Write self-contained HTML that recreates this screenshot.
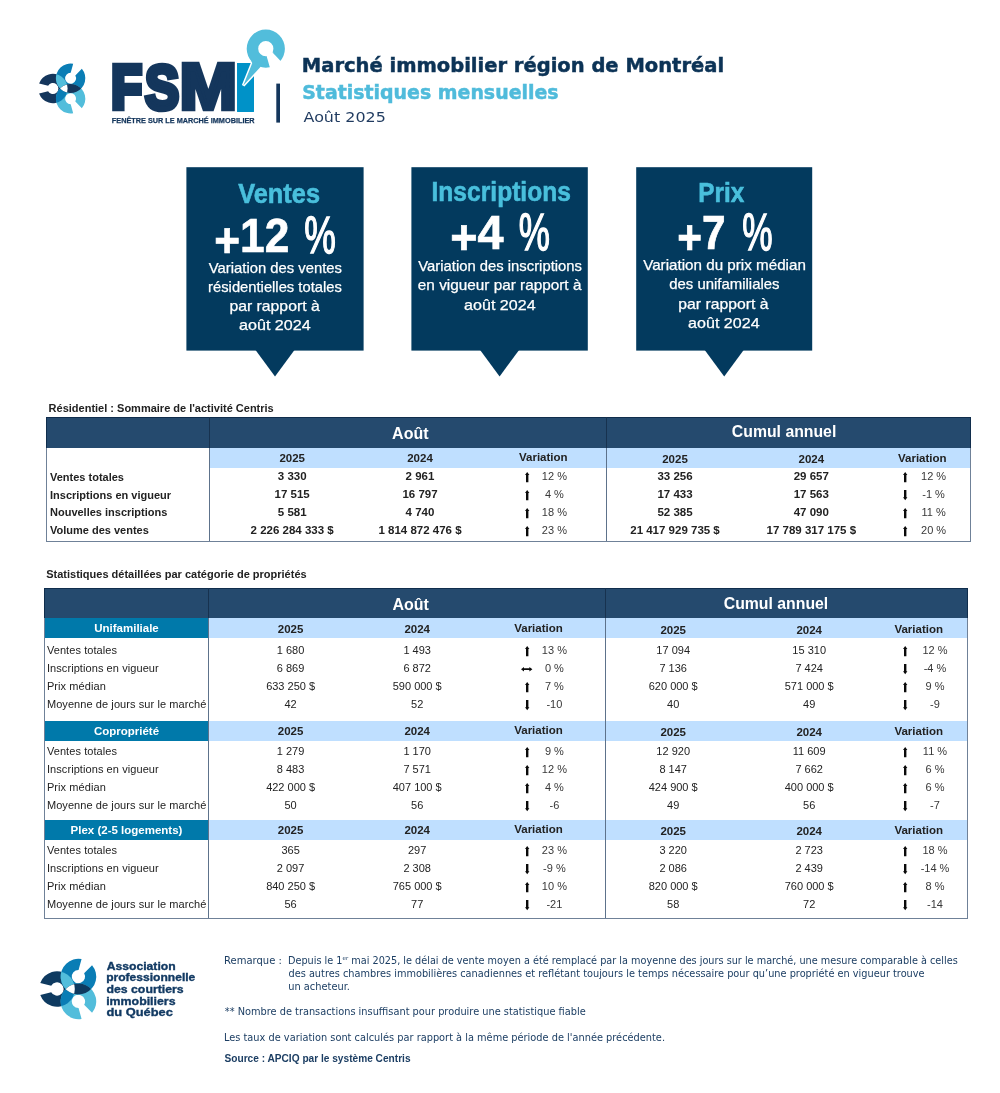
<!DOCTYPE html>
<html lang="fr">
<head>
<meta charset="utf-8">
<title>Marché immobilier région de Montréal - Statistiques mensuelles</title>
<style>
html,body{margin:0;padding:0;background:#fff;}
body{width:1000px;height:1093px;position:relative;overflow:hidden;font-family:"Liberation Sans",sans-serif;color:#1a1a1a;}
.abs{position:absolute;white-space:nowrap;line-height:1;}
svg{position:absolute;left:0;top:0;overflow:visible;}

.t{position:absolute;white-space:nowrap;line-height:1;font-size:11px;color:#222;}
.c{text-align:center;width:200px;}
.r{text-align:right;width:100px;}
.b{font-weight:700;}
.g{color:#383838;}
.w{color:#fff;}
.box{position:absolute;}
.ar{position:absolute;overflow:visible;}

</style>
</head>
<body>
<svg width="1000" height="400" viewBox="0 0 1000 400">
<defs>
<clipPath id="hA"><path d="M39.08,83.50 A14.7,14.7 0 1 1 39.08,93.50 L48.09,91.17 A5.5,5.5 0 1 0 48.09,85.83 Z"/></clipPath>
<clipPath id="hB"><path d="M81.84,68.81 A14.7,14.7 0 1 1 73.18,63.81 L70.70,72.78 A5.5,5.5 0 1 0 75.31,75.45 Z"/></clipPath>
</defs>
<path d="M39.08,83.50 A14.7,14.7 0 1 1 39.08,93.50 L48.09,91.17 A5.5,5.5 0 1 0 48.09,85.83 Z" fill="#14365c"/>
<path d="M81.84,68.81 A14.7,14.7 0 1 1 73.18,63.81 L70.70,72.78 A5.5,5.5 0 1 0 75.31,75.45 Z" fill="#0a7db5"/>
<path d="M73.18,113.19 A14.7,14.7 0 1 1 81.84,108.19 L75.31,101.55 A5.5,5.5 0 1 0 70.70,104.22 Z" fill="#52bddb"/>
<path d="M81.84,68.81 A14.7,14.7 0 1 1 73.18,63.81 L70.70,72.78 A5.5,5.5 0 1 0 75.31,75.45 Z" fill="#52bddb" clip-path="url(#hA)"/>
<path d="M73.18,113.19 A14.7,14.7 0 1 1 81.84,108.19 L75.31,101.55 A5.5,5.5 0 1 0 70.70,104.22 Z" fill="#0a7db5" clip-path="url(#hA)"/>
<path d="M73.18,113.19 A14.7,14.7 0 1 1 81.84,108.19 L75.31,101.55 A5.5,5.5 0 1 0 70.70,104.22 Z" fill="#14365c" clip-path="url(#hB)"/>
<g clip-path="url(#hA)"><path d="M73.18,113.19 A14.7,14.7 0 1 1 81.84,108.19 L75.31,101.55 A5.5,5.5 0 1 0 70.70,104.22 Z" fill="#ffffff" clip-path="url(#hB)"/></g>
<text font-family="Liberation Sans, sans-serif" font-weight="700"><tspan x="111.59" y="108.25" font-size="61.05" fill="#14365c" textLength="30.22" lengthAdjust="spacingAndGlyphs" stroke="#14365c" stroke-width="6.5">F</tspan><tspan x="145.02" y="108.75" font-size="62.5" fill="#14365c" textLength="34.13" lengthAdjust="spacingAndGlyphs" stroke="#14365c" stroke-width="5.5">S</tspan><tspan x="179.64" y="109.25" font-size="63.95" fill="#14365c" textLength="57.54" lengthAdjust="spacingAndGlyphs" stroke="#14365c" stroke-width="4.5">M</tspan><tspan x="234.28" y="109.5" font-size="64.68" fill="#0092c8" textLength="22.49" lengthAdjust="spacingAndGlyphs" stroke="#0092c8" stroke-width="4.0">I</tspan></text>
<rect x="237.1" y="63" width="16.9" height="48.6" fill="#0092c8"/>
<polygon points="252.2,63.3 243.3,85.6 260.2,67.3" fill="#52bddb" stroke="#fff" stroke-width="3" stroke-linejoin="miter"/>
<path d="M246.70000000000002,48.7 a19.1,19.1 0 1 0 38.2,0 a19.1,19.1 0 1 0 -38.2,0 Z M258.2,48.7 a7.6,7.6 0 1 1 15.2,0 a7.6,7.6 0 1 1 -15.2,0 Z" fill="#52bddb" fill-rule="evenodd"/>
<polygon points="251,60 252.2,63.3 243.3,85.6 260.2,67.3 262,64" fill="#52bddb"/>
<polygon points="265.8,48.7 272.3,52.2 288.4,69.3 272.8,77.8 266.8,56.7" fill="#fff"/>
<text x="111.84" y="123" font-family="Liberation Sans, sans-serif" font-weight="700" font-size="7.7" fill="#14365c" textLength="142.73" lengthAdjust="spacingAndGlyphs" stroke="#14365c" stroke-width="0.25">FENÊTRE SUR LE MARCHÉ IMMOBILIER</text>
<rect x="276.3" y="83.6" width="3.7" height="39" fill="#14365c"/>
<text x="301.84" y="72.4" font-family="DejaVu Sans, Liberation Sans, sans-serif" font-weight="700" font-size="20" fill="#0c3356" textLength="422.27" lengthAdjust="spacingAndGlyphs" stroke="#0c3356" stroke-width="0.5">Marché immobilier région de Montréal</text>
<text x="302.22" y="99.1" font-family="DejaVu Sans, Liberation Sans, sans-serif" font-weight="700" font-size="20" fill="#4fbbdb" textLength="256.36" lengthAdjust="spacingAndGlyphs" stroke="#4fbbdb" stroke-width="0.5">Statistiques mensuelles</text>
<text x="303.53" y="122" font-family="DejaVu Sans, Liberation Sans, sans-serif" font-weight="400" font-size="14.7" fill="#1f3a5f" textLength="82.28" lengthAdjust="spacingAndGlyphs" >Août 2025</text>
<rect x="186.4" y="167.2" width="177.20000000000002" height="183.4" fill="#033a5e"/>
<polygon points="255.5,350 294.5,350 275.0,376.4" fill="#033a5e"/>
<text x="238.24" y="202.7" font-family="Liberation Sans, sans-serif" font-weight="700" font-size="28.3" fill="#49bfdc" textLength="81.79" lengthAdjust="spacingAndGlyphs" stroke="#49bfdc" stroke-width="0.6">Ventes</text>
<text x="214.2" y="252.2" font-family="Liberation Sans, sans-serif" font-weight="700" font-size="48.5" fill="#fff" textLength="75.04" lengthAdjust="spacingAndGlyphs" stroke="#fff" stroke-width="0.7"><tspan dy="4.3">+</tspan><tspan dy="-4.3">12</tspan></text>
<text x="304.28" y="252.5" font-family="Liberation Sans, sans-serif" font-weight="400" font-size="52" fill="#fff" textLength="31.61" lengthAdjust="spacingAndGlyphs" stroke="#fff" stroke-width="1.4">%</text>
<text x="208.85" y="272.9" font-family="Liberation Sans, sans-serif" font-weight="400" font-size="15" fill="#fff" textLength="133.1" lengthAdjust="spacingAndGlyphs" stroke="#fff" stroke-width="0.25">Variation des ventes</text>
<text x="208.12" y="291.5" font-family="Liberation Sans, sans-serif" font-weight="400" font-size="15" fill="#fff" textLength="133.7" lengthAdjust="spacingAndGlyphs" stroke="#fff" stroke-width="0.25">résidentielles totales</text>
<text x="229.45" y="310.5" font-family="Liberation Sans, sans-serif" font-weight="400" font-size="15" fill="#fff" textLength="90.24" lengthAdjust="spacingAndGlyphs" stroke="#fff" stroke-width="0.25">par rapport à</text>
<text x="238.99" y="330.2" font-family="Liberation Sans, sans-serif" font-weight="400" font-size="15" fill="#fff" textLength="71.73" lengthAdjust="spacingAndGlyphs" stroke="#fff" stroke-width="0.25">août 2024</text>
<rect x="411.4" y="167.2" width="176.39999999999998" height="183.4" fill="#033a5e"/>
<polygon points="480.09999999999997,350 519.0999999999999,350 499.59999999999997,376.4" fill="#033a5e"/>
<text x="431.52" y="201" font-family="Liberation Sans, sans-serif" font-weight="700" font-size="28.3" fill="#49bfdc" textLength="139.39" lengthAdjust="spacingAndGlyphs" stroke="#49bfdc" stroke-width="0.6">Inscriptions</text>
<text x="450.21" y="249.2" font-family="Liberation Sans, sans-serif" font-weight="700" font-size="48.5" fill="#fff" textLength="53.36" lengthAdjust="spacingAndGlyphs" stroke="#fff" stroke-width="0.7"><tspan dy="4.3">+</tspan><tspan dy="-4.3">4</tspan></text>
<text x="518.69" y="249.5" font-family="Liberation Sans, sans-serif" font-weight="400" font-size="52" fill="#fff" textLength="31.18" lengthAdjust="spacingAndGlyphs" stroke="#fff" stroke-width="1.4">%</text>
<text x="418.35" y="270.8" font-family="Liberation Sans, sans-serif" font-weight="400" font-size="15" fill="#fff" textLength="163.58" lengthAdjust="spacingAndGlyphs" stroke="#fff" stroke-width="0.25">Variation des inscriptions</text>
<text x="417.83" y="289.7" font-family="Liberation Sans, sans-serif" font-weight="400" font-size="15" fill="#fff" textLength="163.58" lengthAdjust="spacingAndGlyphs" stroke="#fff" stroke-width="0.25">en vigueur par rapport à</text>
<text x="464.1" y="309.5" font-family="Liberation Sans, sans-serif" font-weight="400" font-size="15" fill="#fff" textLength="71.52" lengthAdjust="spacingAndGlyphs" stroke="#fff" stroke-width="0.25">août 2024</text>
<rect x="636.2" y="167.2" width="176.0" height="183.4" fill="#033a5e"/>
<polygon points="704.7,350 743.7,350 724.2,376.4" fill="#033a5e"/>
<text x="698.24" y="201.5" font-family="Liberation Sans, sans-serif" font-weight="700" font-size="28.3" fill="#49bfdc" textLength="45.92" lengthAdjust="spacingAndGlyphs" stroke="#49bfdc" stroke-width="0.6">Prix</text>
<text x="677.16" y="249.2" font-family="Liberation Sans, sans-serif" font-weight="700" font-size="48.5" fill="#fff" textLength="48.34" lengthAdjust="spacingAndGlyphs" stroke="#fff" stroke-width="0.7"><tspan dy="4.3">+</tspan><tspan dy="-4.3">7</tspan></text>
<text x="742.21" y="249.5" font-family="Liberation Sans, sans-serif" font-weight="400" font-size="52" fill="#fff" textLength="30.34" lengthAdjust="spacingAndGlyphs" stroke="#fff" stroke-width="1.4">%</text>
<text x="643.15" y="270.4" font-family="Liberation Sans, sans-serif" font-weight="400" font-size="15" fill="#fff" textLength="162.77" lengthAdjust="spacingAndGlyphs" stroke="#fff" stroke-width="0.25">Variation du prix médian</text>
<text x="669.25" y="289.2" font-family="Liberation Sans, sans-serif" font-weight="400" font-size="15" fill="#fff" textLength="110.28" lengthAdjust="spacingAndGlyphs" stroke="#fff" stroke-width="0.25">des unifamiliales</text>
<text x="678.35" y="308.6" font-family="Liberation Sans, sans-serif" font-weight="400" font-size="15" fill="#fff" textLength="90.13" lengthAdjust="spacingAndGlyphs" stroke="#fff" stroke-width="0.25">par rapport à</text>
<text x="688.1" y="328" font-family="Liberation Sans, sans-serif" font-weight="400" font-size="15" fill="#fff" textLength="71.52" lengthAdjust="spacingAndGlyphs" stroke="#fff" stroke-width="0.25">août 2024</text>
</svg>
<div class="t b" style="left:48.6px;top:403px;font-size:11px">Résidentiel : Sommaire de l'activité Centris</div>
<div class="box" style="left:46.5px;top:417.2px;width:923.9px;height:30.6px;background:#254a6e"></div>
<div class="box" style="left:209.5px;top:447.8px;width:760.9px;height:19.9px;background:#bfdfff"></div>
<div class="box" style="left:46.0px;top:417.0px;width:925.0px;height:1.0px;background:#102d4c"></div>
<div class="box" style="left:46.0px;top:417.0px;width:1.0px;height:30.8px;background:#102d4c"></div>
<div class="box" style="left:970.0px;top:417.0px;width:1.0px;height:30.8px;background:#102d4c"></div>
<div class="box" style="left:46.0px;top:447.8px;width:1.2px;height:94.2px;background:#6f8198"></div>
<div class="box" style="left:970.0px;top:447.8px;width:1.2px;height:94.2px;background:#6f8198"></div>
<div class="box" style="left:46.0px;top:541.0px;width:925.0px;height:1.2px;background:#6f8198"></div>
<div class="box" style="left:209.0px;top:417.2px;width:1.0px;height:30.6px;background:#17324f"></div>
<div class="box" style="left:605.5px;top:417.2px;width:1.0px;height:30.6px;background:#17324f"></div>
<div class="box" style="left:209.0px;top:447.8px;width:1.0px;height:93.6px;background:#5d728b"></div>
<div class="box" style="left:605.5px;top:447.8px;width:1.0px;height:93.6px;background:#5d728b"></div>
<div class="t c b w" style="left:310.3px;top:426px;font-size:16px">Août</div>
<div class="t c b w" style="left:684.1px;top:424px;font-size:15.8px">Cumul annuel</div>
<div class="t c b" style="left:192.2px;top:453px;font-size:11.5px">2025</div>
<div class="t c b" style="left:320.0px;top:453px;font-size:11.5px">2024</div>
<div class="t c b" style="left:443.3px;top:452px;font-size:11.5px">Variation</div>
<div class="t c b" style="left:575.0px;top:454px;font-size:11.5px">2025</div>
<div class="t c b" style="left:711.3px;top:454px;font-size:11.5px">2024</div>
<div class="t c b" style="left:822.3px;top:453px;font-size:11.5px">Variation</div>
<div class="t b" style="left:50.0px;top:472px;font-size:11px">Ventes totales</div>
<div class="t c b" style="left:192.2px;top:471px;font-size:11.5px">3 330</div>
<div class="t c b" style="left:320.0px;top:471px;font-size:11.5px">2 961</div>
<svg class="ar" style="left:524.6px;top:472.0px" width="4.4" height="10.3" viewBox="0 0 4.4 10.3"><path d="M2.2 0 L4.4 3 H3.4 V10.3 H1 V3 H0 Z" fill="#0a0a0a"/></svg>
<div class="t c g" style="left:454.4px;top:471px;font-size:11px">12 %</div>
<div class="t c b" style="left:575.0px;top:471px;font-size:11.5px">33 256</div>
<div class="t c b" style="left:711.3px;top:471px;font-size:11.5px">29 657</div>
<svg class="ar" style="left:902.9px;top:472.0px" width="4.4" height="10.3" viewBox="0 0 4.4 10.3"><path d="M2.2 0 L4.4 3 H3.4 V10.3 H1 V3 H0 Z" fill="#0a0a0a"/></svg>
<div class="t c g" style="left:833.6px;top:471px;font-size:11px">12 %</div>
<div class="t b" style="left:50.0px;top:490px;font-size:11px">Inscriptions en vigueur</div>
<div class="t c b" style="left:192.2px;top:489px;font-size:11.5px">17 515</div>
<div class="t c b" style="left:320.0px;top:489px;font-size:11.5px">16 797</div>
<svg class="ar" style="left:524.6px;top:490.0px" width="4.4" height="10.3" viewBox="0 0 4.4 10.3"><path d="M2.2 0 L4.4 3 H3.4 V10.3 H1 V3 H0 Z" fill="#0a0a0a"/></svg>
<div class="t c g" style="left:454.4px;top:489px;font-size:11px">4 %</div>
<div class="t c b" style="left:575.0px;top:489px;font-size:11.5px">17 433</div>
<div class="t c b" style="left:711.3px;top:489px;font-size:11.5px">17 563</div>
<svg class="ar" style="left:902.9px;top:489.8px" width="4.4" height="10.3" viewBox="0 0 4.4 10.3"><path d="M2.2 10.3 L4.4 7.3 H3.4 V0 H1 V7.3 H0 Z" fill="#0a0a0a"/></svg>
<div class="t c g" style="left:833.6px;top:489px;font-size:11px">-1 %</div>
<div class="t b" style="left:50.0px;top:507px;font-size:11px">Nouvelles inscriptions</div>
<div class="t c b" style="left:192.2px;top:507px;font-size:11.5px">5 581</div>
<div class="t c b" style="left:320.0px;top:507px;font-size:11.5px">4 740</div>
<svg class="ar" style="left:524.6px;top:508.0px" width="4.4" height="10.3" viewBox="0 0 4.4 10.3"><path d="M2.2 0 L4.4 3 H3.4 V10.3 H1 V3 H0 Z" fill="#0a0a0a"/></svg>
<div class="t c g" style="left:454.4px;top:507px;font-size:11px">18 %</div>
<div class="t c b" style="left:575.0px;top:507px;font-size:11.5px">52 385</div>
<div class="t c b" style="left:711.3px;top:507px;font-size:11.5px">47 090</div>
<svg class="ar" style="left:902.9px;top:508.0px" width="4.4" height="10.3" viewBox="0 0 4.4 10.3"><path d="M2.2 0 L4.4 3 H3.4 V10.3 H1 V3 H0 Z" fill="#0a0a0a"/></svg>
<div class="t c g" style="left:833.6px;top:507px;font-size:11px">11 %</div>
<div class="t b" style="left:50.0px;top:525px;font-size:11px">Volume des ventes</div>
<div class="t c b" style="left:192.2px;top:525px;font-size:11.5px">2 226 284 333 $</div>
<div class="t c b" style="left:320.0px;top:525px;font-size:11.5px">1 814 872 476 $</div>
<svg class="ar" style="left:524.6px;top:526.0px" width="4.4" height="10.3" viewBox="0 0 4.4 10.3"><path d="M2.2 0 L4.4 3 H3.4 V10.3 H1 V3 H0 Z" fill="#0a0a0a"/></svg>
<div class="t c g" style="left:454.4px;top:525px;font-size:11px">23 %</div>
<div class="t c b" style="left:575.0px;top:525px;font-size:11.5px">21 417 929 735 $</div>
<div class="t c b" style="left:711.3px;top:525px;font-size:11.5px">17 789 317 175 $</div>
<svg class="ar" style="left:902.9px;top:526.0px" width="4.4" height="10.3" viewBox="0 0 4.4 10.3"><path d="M2.2 0 L4.4 3 H3.4 V10.3 H1 V3 H0 Z" fill="#0a0a0a"/></svg>
<div class="t c g" style="left:833.6px;top:525px;font-size:11px">20 %</div>
<div class="t b" style="left:46.2px;top:569px;font-size:11px">Statistiques détaillées par catégorie de propriétés</div>
<div class="box" style="left:44.3px;top:587.5px;width:923.0px;height:30.8px;background:#254a6e"></div>
<div class="box" style="left:44.3px;top:618.3px;width:164.4px;height:20.0px;background:#0079aa"></div>
<div class="box" style="left:208.7px;top:618.3px;width:758.6px;height:20.0px;background:#bfdfff"></div>
<div class="t c b w" style="left:26.5px;top:623px;font-size:11.5px">Unifamiliale</div>
<div class="t c b" style="left:190.6px;top:624px;font-size:11.5px">2025</div>
<div class="t c b" style="left:317.2px;top:624px;font-size:11.5px">2024</div>
<div class="t c b" style="left:438.5px;top:623px;font-size:11.5px">Variation</div>
<div class="t c b" style="left:573.2px;top:625px;font-size:11.5px">2025</div>
<div class="t c b" style="left:709.2px;top:625px;font-size:11.5px">2024</div>
<div class="t c b" style="left:818.7px;top:624px;font-size:11.5px">Variation</div>
<div class="t " style="left:46.9px;top:645px;font-size:11px;letter-spacing:0.08px">Ventes totales</div>
<div class="t c " style="left:190.6px;top:645px;font-size:11px">1 680</div>
<div class="t c " style="left:317.2px;top:645px;font-size:11px">1 493</div>
<svg class="ar" style="left:524.6px;top:646.0px" width="4.4" height="10.3" viewBox="0 0 4.4 10.3"><path d="M2.2 0 L4.4 3 H3.4 V10.3 H1 V3 H0 Z" fill="#0a0a0a"/></svg>
<div class="t c g" style="left:454.4px;top:645px;font-size:11px">13 %</div>
<div class="t c " style="left:573.2px;top:645px;font-size:11px">17 094</div>
<div class="t c " style="left:709.2px;top:645px;font-size:11px">15 310</div>
<svg class="ar" style="left:902.7px;top:646.0px" width="4.4" height="10.3" viewBox="0 0 4.4 10.3"><path d="M2.2 0 L4.4 3 H3.4 V10.3 H1 V3 H0 Z" fill="#0a0a0a"/></svg>
<div class="t c g" style="left:835.0px;top:645px;font-size:11px">12 %</div>
<div class="t " style="left:46.9px;top:663px;font-size:11px;letter-spacing:0.08px">Inscriptions en vigueur</div>
<div class="t c " style="left:190.6px;top:663px;font-size:11px">6 869</div>
<div class="t c " style="left:317.2px;top:663px;font-size:11px">6 872</div>
<svg class="ar" style="left:521.1px;top:666.8px" width="11.4" height="4.4" viewBox="0 0 11.4 4.4"><path d="M0 2.2 L3 0 V1.3 H8.4 V0 L11.4 2.2 L8.4 4.4 V3.1 H3 V4.4 Z" fill="#0a0a0a"/></svg>
<div class="t c g" style="left:454.4px;top:663px;font-size:11px">0 %</div>
<div class="t c " style="left:573.2px;top:663px;font-size:11px">7 136</div>
<div class="t c " style="left:709.2px;top:663px;font-size:11px">7 424</div>
<svg class="ar" style="left:902.7px;top:663.8px" width="4.4" height="10.3" viewBox="0 0 4.4 10.3"><path d="M2.2 10.3 L4.4 7.3 H3.4 V0 H1 V7.3 H0 Z" fill="#0a0a0a"/></svg>
<div class="t c g" style="left:835.0px;top:663px;font-size:11px">-4 %</div>
<div class="t " style="left:46.9px;top:681px;font-size:11px;letter-spacing:0.08px">Prix médian</div>
<div class="t c " style="left:190.6px;top:681px;font-size:11px">633 250 $</div>
<div class="t c " style="left:317.2px;top:681px;font-size:11px">590 000 $</div>
<svg class="ar" style="left:524.6px;top:682.0px" width="4.4" height="10.3" viewBox="0 0 4.4 10.3"><path d="M2.2 0 L4.4 3 H3.4 V10.3 H1 V3 H0 Z" fill="#0a0a0a"/></svg>
<div class="t c g" style="left:454.4px;top:681px;font-size:11px">7 %</div>
<div class="t c " style="left:573.2px;top:681px;font-size:11px">620 000 $</div>
<div class="t c " style="left:709.2px;top:681px;font-size:11px">571 000 $</div>
<svg class="ar" style="left:902.7px;top:682.0px" width="4.4" height="10.3" viewBox="0 0 4.4 10.3"><path d="M2.2 0 L4.4 3 H3.4 V10.3 H1 V3 H0 Z" fill="#0a0a0a"/></svg>
<div class="t c g" style="left:835.0px;top:681px;font-size:11px">9 %</div>
<div class="t " style="left:46.9px;top:699px;font-size:11px;letter-spacing:0.08px">Moyenne de jours sur le marché</div>
<div class="t c " style="left:190.6px;top:699px;font-size:11px">42</div>
<div class="t c " style="left:317.2px;top:699px;font-size:11px">52</div>
<svg class="ar" style="left:524.6px;top:699.8px" width="4.4" height="10.3" viewBox="0 0 4.4 10.3"><path d="M2.2 10.3 L4.4 7.3 H3.4 V0 H1 V7.3 H0 Z" fill="#0a0a0a"/></svg>
<div class="t c g" style="left:454.4px;top:699px;font-size:11px">-10</div>
<div class="t c " style="left:573.2px;top:699px;font-size:11px">40</div>
<div class="t c " style="left:709.2px;top:699px;font-size:11px">49</div>
<svg class="ar" style="left:902.7px;top:699.8px" width="4.4" height="10.3" viewBox="0 0 4.4 10.3"><path d="M2.2 10.3 L4.4 7.3 H3.4 V0 H1 V7.3 H0 Z" fill="#0a0a0a"/></svg>
<div class="t c g" style="left:835.0px;top:699px;font-size:11px">-9</div>
<div class="box" style="left:44.3px;top:721.0px;width:164.4px;height:19.7px;background:#0079aa"></div>
<div class="box" style="left:208.7px;top:721.0px;width:758.6px;height:19.7px;background:#bfdfff"></div>
<div class="t c b w" style="left:26.5px;top:726px;font-size:11.5px">Copropriété</div>
<div class="t c b" style="left:190.6px;top:726px;font-size:11.5px">2025</div>
<div class="t c b" style="left:317.2px;top:726px;font-size:11.5px">2024</div>
<div class="t c b" style="left:438.5px;top:725px;font-size:11.5px">Variation</div>
<div class="t c b" style="left:573.2px;top:727px;font-size:11.5px">2025</div>
<div class="t c b" style="left:709.2px;top:727px;font-size:11.5px">2024</div>
<div class="t c b" style="left:818.7px;top:726px;font-size:11.5px">Variation</div>
<div class="t " style="left:46.9px;top:746px;font-size:11px;letter-spacing:0.08px">Ventes totales</div>
<div class="t c " style="left:190.6px;top:746px;font-size:11px">1 279</div>
<div class="t c " style="left:317.2px;top:746px;font-size:11px">1 170</div>
<svg class="ar" style="left:524.6px;top:747.0px" width="4.4" height="10.3" viewBox="0 0 4.4 10.3"><path d="M2.2 0 L4.4 3 H3.4 V10.3 H1 V3 H0 Z" fill="#0a0a0a"/></svg>
<div class="t c g" style="left:454.4px;top:746px;font-size:11px">9 %</div>
<div class="t c " style="left:573.2px;top:746px;font-size:11px">12 920</div>
<div class="t c " style="left:709.2px;top:746px;font-size:11px">11 609</div>
<svg class="ar" style="left:902.7px;top:747.0px" width="4.4" height="10.3" viewBox="0 0 4.4 10.3"><path d="M2.2 0 L4.4 3 H3.4 V10.3 H1 V3 H0 Z" fill="#0a0a0a"/></svg>
<div class="t c g" style="left:835.0px;top:746px;font-size:11px">11 %</div>
<div class="t " style="left:46.9px;top:764px;font-size:11px;letter-spacing:0.08px">Inscriptions en vigueur</div>
<div class="t c " style="left:190.6px;top:764px;font-size:11px">8 483</div>
<div class="t c " style="left:317.2px;top:764px;font-size:11px">7 571</div>
<svg class="ar" style="left:524.6px;top:765.0px" width="4.4" height="10.3" viewBox="0 0 4.4 10.3"><path d="M2.2 0 L4.4 3 H3.4 V10.3 H1 V3 H0 Z" fill="#0a0a0a"/></svg>
<div class="t c g" style="left:454.4px;top:764px;font-size:11px">12 %</div>
<div class="t c " style="left:573.2px;top:764px;font-size:11px">8 147</div>
<div class="t c " style="left:709.2px;top:764px;font-size:11px">7 662</div>
<svg class="ar" style="left:902.7px;top:765.0px" width="4.4" height="10.3" viewBox="0 0 4.4 10.3"><path d="M2.2 0 L4.4 3 H3.4 V10.3 H1 V3 H0 Z" fill="#0a0a0a"/></svg>
<div class="t c g" style="left:835.0px;top:764px;font-size:11px">6 %</div>
<div class="t " style="left:46.9px;top:782px;font-size:11px;letter-spacing:0.08px">Prix médian</div>
<div class="t c " style="left:190.6px;top:782px;font-size:11px">422 000 $</div>
<div class="t c " style="left:317.2px;top:782px;font-size:11px">407 100 $</div>
<svg class="ar" style="left:524.6px;top:783.0px" width="4.4" height="10.3" viewBox="0 0 4.4 10.3"><path d="M2.2 0 L4.4 3 H3.4 V10.3 H1 V3 H0 Z" fill="#0a0a0a"/></svg>
<div class="t c g" style="left:454.4px;top:782px;font-size:11px">4 %</div>
<div class="t c " style="left:573.2px;top:782px;font-size:11px">424 900 $</div>
<div class="t c " style="left:709.2px;top:782px;font-size:11px">400 000 $</div>
<svg class="ar" style="left:902.7px;top:783.0px" width="4.4" height="10.3" viewBox="0 0 4.4 10.3"><path d="M2.2 0 L4.4 3 H3.4 V10.3 H1 V3 H0 Z" fill="#0a0a0a"/></svg>
<div class="t c g" style="left:835.0px;top:782px;font-size:11px">6 %</div>
<div class="t " style="left:46.9px;top:800px;font-size:11px;letter-spacing:0.08px">Moyenne de jours sur le marché</div>
<div class="t c " style="left:190.6px;top:800px;font-size:11px">50</div>
<div class="t c " style="left:317.2px;top:800px;font-size:11px">56</div>
<svg class="ar" style="left:524.6px;top:800.8px" width="4.4" height="10.3" viewBox="0 0 4.4 10.3"><path d="M2.2 10.3 L4.4 7.3 H3.4 V0 H1 V7.3 H0 Z" fill="#0a0a0a"/></svg>
<div class="t c g" style="left:454.4px;top:800px;font-size:11px">-6</div>
<div class="t c " style="left:573.2px;top:800px;font-size:11px">49</div>
<div class="t c " style="left:709.2px;top:800px;font-size:11px">56</div>
<svg class="ar" style="left:902.7px;top:800.8px" width="4.4" height="10.3" viewBox="0 0 4.4 10.3"><path d="M2.2 10.3 L4.4 7.3 H3.4 V0 H1 V7.3 H0 Z" fill="#0a0a0a"/></svg>
<div class="t c g" style="left:835.0px;top:800px;font-size:11px">-7</div>
<div class="box" style="left:44.3px;top:820.4px;width:164.4px;height:19.5px;background:#0079aa"></div>
<div class="box" style="left:208.7px;top:820.4px;width:758.6px;height:19.5px;background:#bfdfff"></div>
<div class="t c b w" style="left:26.5px;top:825px;font-size:11.5px">Plex (2-5 logements)</div>
<div class="t c b" style="left:190.6px;top:825px;font-size:11.5px">2025</div>
<div class="t c b" style="left:317.2px;top:825px;font-size:11.5px">2024</div>
<div class="t c b" style="left:438.5px;top:824px;font-size:11.5px">Variation</div>
<div class="t c b" style="left:573.2px;top:826px;font-size:11.5px">2025</div>
<div class="t c b" style="left:709.2px;top:826px;font-size:11.5px">2024</div>
<div class="t c b" style="left:818.7px;top:825px;font-size:11.5px">Variation</div>
<div class="t " style="left:46.9px;top:845px;font-size:11px;letter-spacing:0.08px">Ventes totales</div>
<div class="t c " style="left:190.6px;top:845px;font-size:11px">365</div>
<div class="t c " style="left:317.2px;top:845px;font-size:11px">297</div>
<svg class="ar" style="left:524.6px;top:846.0px" width="4.4" height="10.3" viewBox="0 0 4.4 10.3"><path d="M2.2 0 L4.4 3 H3.4 V10.3 H1 V3 H0 Z" fill="#0a0a0a"/></svg>
<div class="t c g" style="left:454.4px;top:845px;font-size:11px">23 %</div>
<div class="t c " style="left:573.2px;top:845px;font-size:11px">3 220</div>
<div class="t c " style="left:709.2px;top:845px;font-size:11px">2 723</div>
<svg class="ar" style="left:902.7px;top:846.0px" width="4.4" height="10.3" viewBox="0 0 4.4 10.3"><path d="M2.2 0 L4.4 3 H3.4 V10.3 H1 V3 H0 Z" fill="#0a0a0a"/></svg>
<div class="t c g" style="left:835.0px;top:845px;font-size:11px">18 %</div>
<div class="t " style="left:46.9px;top:863px;font-size:11px;letter-spacing:0.08px">Inscriptions en vigueur</div>
<div class="t c " style="left:190.6px;top:863px;font-size:11px">2 097</div>
<div class="t c " style="left:317.2px;top:863px;font-size:11px">2 308</div>
<svg class="ar" style="left:524.6px;top:863.8px" width="4.4" height="10.3" viewBox="0 0 4.4 10.3"><path d="M2.2 10.3 L4.4 7.3 H3.4 V0 H1 V7.3 H0 Z" fill="#0a0a0a"/></svg>
<div class="t c g" style="left:454.4px;top:863px;font-size:11px">-9 %</div>
<div class="t c " style="left:573.2px;top:863px;font-size:11px">2 086</div>
<div class="t c " style="left:709.2px;top:863px;font-size:11px">2 439</div>
<svg class="ar" style="left:902.7px;top:863.8px" width="4.4" height="10.3" viewBox="0 0 4.4 10.3"><path d="M2.2 10.3 L4.4 7.3 H3.4 V0 H1 V7.3 H0 Z" fill="#0a0a0a"/></svg>
<div class="t c g" style="left:835.0px;top:863px;font-size:11px">-14 %</div>
<div class="t " style="left:46.9px;top:881px;font-size:11px;letter-spacing:0.08px">Prix médian</div>
<div class="t c " style="left:190.6px;top:881px;font-size:11px">840 250 $</div>
<div class="t c " style="left:317.2px;top:881px;font-size:11px">765 000 $</div>
<svg class="ar" style="left:524.6px;top:882.0px" width="4.4" height="10.3" viewBox="0 0 4.4 10.3"><path d="M2.2 0 L4.4 3 H3.4 V10.3 H1 V3 H0 Z" fill="#0a0a0a"/></svg>
<div class="t c g" style="left:454.4px;top:881px;font-size:11px">10 %</div>
<div class="t c " style="left:573.2px;top:881px;font-size:11px">820 000 $</div>
<div class="t c " style="left:709.2px;top:881px;font-size:11px">760 000 $</div>
<svg class="ar" style="left:902.7px;top:882.0px" width="4.4" height="10.3" viewBox="0 0 4.4 10.3"><path d="M2.2 0 L4.4 3 H3.4 V10.3 H1 V3 H0 Z" fill="#0a0a0a"/></svg>
<div class="t c g" style="left:835.0px;top:881px;font-size:11px">8 %</div>
<div class="t " style="left:46.9px;top:899px;font-size:11px;letter-spacing:0.08px">Moyenne de jours sur le marché</div>
<div class="t c " style="left:190.6px;top:899px;font-size:11px">56</div>
<div class="t c " style="left:317.2px;top:899px;font-size:11px">77</div>
<svg class="ar" style="left:524.6px;top:899.8px" width="4.4" height="10.3" viewBox="0 0 4.4 10.3"><path d="M2.2 10.3 L4.4 7.3 H3.4 V0 H1 V7.3 H0 Z" fill="#0a0a0a"/></svg>
<div class="t c g" style="left:454.4px;top:899px;font-size:11px">-21</div>
<div class="t c " style="left:573.2px;top:899px;font-size:11px">58</div>
<div class="t c " style="left:709.2px;top:899px;font-size:11px">72</div>
<svg class="ar" style="left:902.7px;top:899.8px" width="4.4" height="10.3" viewBox="0 0 4.4 10.3"><path d="M2.2 10.3 L4.4 7.3 H3.4 V0 H1 V7.3 H0 Z" fill="#0a0a0a"/></svg>
<div class="t c g" style="left:835.0px;top:899px;font-size:11px">-14</div>
<div class="box" style="left:44.0px;top:588.0px;width:924.0px;height:1.0px;background:#102d4c"></div>
<div class="box" style="left:44.0px;top:588.0px;width:1.0px;height:30.3px;background:#102d4c"></div>
<div class="box" style="left:967.0px;top:588.0px;width:1.0px;height:30.3px;background:#102d4c"></div>
<div class="box" style="left:44.0px;top:618.3px;width:1.2px;height:300.7px;background:#6f8198"></div>
<div class="box" style="left:967.0px;top:618.3px;width:1.2px;height:300.7px;background:#6f8198"></div>
<div class="box" style="left:44.0px;top:918.0px;width:924.0px;height:1.2px;background:#6f8198"></div>
<div class="box" style="left:208.2px;top:587.5px;width:1.0px;height:30.8px;background:#17324f"></div>
<div class="box" style="left:605.1px;top:587.5px;width:1.0px;height:30.8px;background:#17324f"></div>
<div class="box" style="left:208.2px;top:618.3px;width:1.0px;height:299.5px;background:#5d728b"></div>
<div class="box" style="left:605.1px;top:618.3px;width:1.0px;height:299.5px;background:#5d728b"></div>
<div class="t c b w" style="left:310.6px;top:597px;font-size:16px">Août</div>
<div class="t c b w" style="left:676.0px;top:596px;font-size:15.8px">Cumul annuel</div>
<svg width="1000" height="1093" viewBox="0 0 1000 1093">
<defs>
<clipPath id="fA"><path d="M40.28,982.95 A17.8,17.8 0 1 1 40.28,995.05 L51.20,992.22 A6.65,6.65 0 1 0 51.20,985.78 Z"/></clipPath>
<clipPath id="fB"><path d="M92.05,965.16 A17.8,17.8 0 1 1 81.57,959.11 L78.56,969.98 A6.65,6.65 0 1 0 84.14,973.21 Z"/></clipPath>
</defs>
<path d="M40.28,982.95 A17.8,17.8 0 1 1 40.28,995.05 L51.20,992.22 A6.65,6.65 0 1 0 51.20,985.78 Z" fill="#0e3a60"/>
<path d="M92.05,965.16 A17.8,17.8 0 1 1 81.57,959.11 L78.56,969.98 A6.65,6.65 0 1 0 84.14,973.21 Z" fill="#0a7db5"/>
<path d="M81.57,1018.89 A17.8,17.8 0 1 1 92.05,1012.84 L84.14,1004.79 A6.65,6.65 0 1 0 78.56,1008.02 Z" fill="#52bddb"/>
<path d="M92.05,965.16 A17.8,17.8 0 1 1 81.57,959.11 L78.56,969.98 A6.65,6.65 0 1 0 84.14,973.21 Z" fill="#52bddb" clip-path="url(#fA)"/>
<path d="M81.57,1018.89 A17.8,17.8 0 1 1 92.05,1012.84 L84.14,1004.79 A6.65,6.65 0 1 0 78.56,1008.02 Z" fill="#0a7db5" clip-path="url(#fA)"/>
<path d="M81.57,1018.89 A17.8,17.8 0 1 1 92.05,1012.84 L84.14,1004.79 A6.65,6.65 0 1 0 78.56,1008.02 Z" fill="#0e3a60" clip-path="url(#fB)"/>
<g clip-path="url(#fA)"><path d="M81.57,1018.89 A17.8,17.8 0 1 1 92.05,1012.84 L84.14,1004.79 A6.65,6.65 0 1 0 78.56,1008.02 Z" fill="#ffffff" clip-path="url(#fB)"/></g>
<text x="106.72" y="969.6" font-family="Liberation Sans, sans-serif" font-weight="700" font-size="11" fill="#123a63" textLength="68.95" lengthAdjust="spacingAndGlyphs" stroke="#123a63" stroke-width="0.35">Association</text>
<text x="106.18" y="981.2" font-family="Liberation Sans, sans-serif" font-weight="700" font-size="11" fill="#123a63" textLength="89.15" lengthAdjust="spacingAndGlyphs" stroke="#123a63" stroke-width="0.35">professionnelle</text>
<text x="106.44" y="992.8" font-family="Liberation Sans, sans-serif" font-weight="700" font-size="11" fill="#123a63" textLength="77.22" lengthAdjust="spacingAndGlyphs" stroke="#123a63" stroke-width="0.35">des courtiers</text>
<text x="106.16" y="1004.5" font-family="Liberation Sans, sans-serif" font-weight="700" font-size="11" fill="#123a63" textLength="69.4" lengthAdjust="spacingAndGlyphs" stroke="#123a63" stroke-width="0.35">immobiliers</text>
<text x="106.42" y="1016.3" font-family="Liberation Sans, sans-serif" font-weight="700" font-size="11" fill="#123a63" textLength="66.39" lengthAdjust="spacingAndGlyphs" stroke="#123a63" stroke-width="0.35">du Québec</text>
<text x="223.96" y="963.6" font-family="DejaVu Sans, Liberation Sans, sans-serif" font-weight="400" font-size="9.6" fill="#1c3e63" textLength="57.95" lengthAdjust="spacingAndGlyphs" >Remarque :</text>
<text x="287.99" y="963.6" font-family="DejaVu Sans, Liberation Sans, sans-serif" font-weight="400" font-size="9.6" fill="#1c3e63" textLength="669.7" lengthAdjust="spacingAndGlyphs" >Depuis le 1<tspan font-size="5.5" dy="-3.2">er</tspan><tspan dy="3.2"> mai 2025, le délai de vente moyen a été remplacé par la moyenne des jours sur le marché, une mesure comparable à celles</tspan></text>
<text x="288.49" y="976.6" font-family="DejaVu Sans, Liberation Sans, sans-serif" font-weight="400" font-size="9.6" fill="#1c3e63" textLength="636.12" lengthAdjust="spacingAndGlyphs" >des autres chambres immobilières canadiennes et reflétant toujours  le temps nécessaire pour qu’une propriété en vigueur trouve</text>
<text x="288.23" y="989.6" font-family="DejaVu Sans, Liberation Sans, sans-serif" font-weight="400" font-size="9.6" fill="#1c3e63" textLength="61.76" lengthAdjust="spacingAndGlyphs" >un acheteur.</text>
<text x="224.74" y="1015.4" font-family="DejaVu Sans, Liberation Sans, sans-serif" font-weight="400" font-size="9.6" fill="#1c3e63" textLength="361.0" lengthAdjust="spacingAndGlyphs" >** Nombre de transactions insuffisant pour produire une statistique fiable</text>
<text x="223.98" y="1041" font-family="DejaVu Sans, Liberation Sans, sans-serif" font-weight="400" font-size="9.6" fill="#1c3e63" textLength="441.04" lengthAdjust="spacingAndGlyphs" >Les taux de variation sont calculés par rapport à la même période de l'année précédente.</text>
<text x="224.5" y="1061.6" font-family="Liberation Sans, sans-serif" font-weight="700" font-size="10.2" fill="#1c3e63" textLength="186.03" lengthAdjust="spacingAndGlyphs" >Source : APCIQ par le système Centris</text>
</svg>
</body>
</html>
